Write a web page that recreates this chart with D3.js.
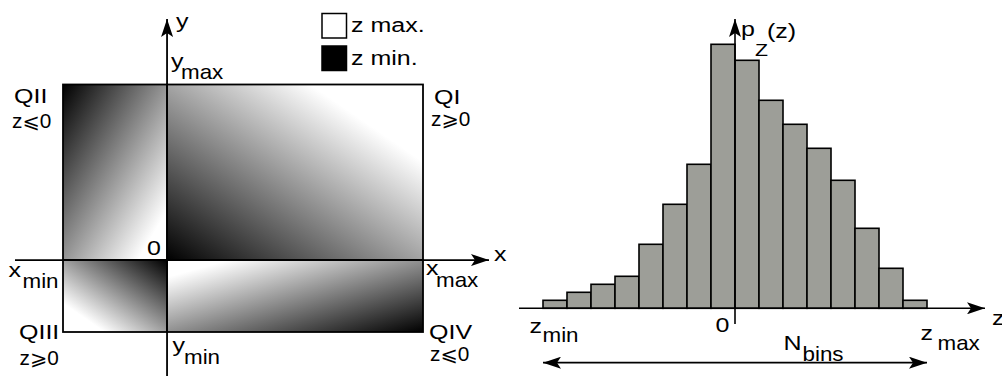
<!DOCTYPE html>
<html>
<head>
<meta charset="utf-8">
<script src="https://cdn.jsdelivr.net/npm/d3@7"></script>
<style>
  html, body { margin: 0; padding: 0; background: #fff; }
  svg { display: block; }
  text { font-family: 'Liberation Sans', Arial, 'DejaVu Sans', sans-serif; font-size: 20px; fill: #000; }
</style>
</head>
<body>
<div id="chart"></div>
<script>
// ---- data ----
// left panel: extents of the xy domain (origin at 0)
const xExtent = [-1, 2.46];
const yExtent = [-1, 2.44];
const quadrantNames = ['QI', 'QII', 'QIII', 'QIV'];
const quadrantSigns = ['z⩾0', 'z⩽0', 'z⩾0', 'z⩽0'];
const legendLabels = ['z max.', 'z min.'];
const legendColors = ['#ffffff', '#000000'];

// right panel: histogram of z, bins around 0
const binEdges = [-8, -7, -6, -5, -4, -3, -2, -1, 0, 1, 2, 3, 4, 5, 6, 7, 8];
const binCounts = [1, 2, 3, 4, 8, 13, 18, 33, 31, 26, 23, 20, 16, 10, 5, 1];

const width = 1002, height = 376;

const svg = d3.select('#chart').append('svg')
  .attr('width', width)
  .attr('height', height);

const defs = svg.append('defs');

// arrow head
defs.append('marker')
  .attr('id', 'arrow')
  .attr('viewBox', '0 0 18 12')
  .attr('refX', 18)
  .attr('refY', 6)
  .attr('markerWidth', 18)
  .attr('markerHeight', 12)
  .attr('markerUnits', 'userSpaceOnUse')
  .attr('orient', 'auto-start-reverse')
  .append('path')
  .attr('d', 'M0,0 L18,6 L0,12 L4,6 Z')
  .attr('fill', '#000');

// the text in the picture is a bit wider than Arial, stretch it
function txt(g, x, y, str, size, sx) {
  return g.append('text')
    .attr('transform', `translate(${x},${y}) scale(${sx || 1.25},1)`)
    .style('font-size', (size || 20) + 'px')
    .text(str);
}
// label with a subscript drawn as a separate piece
function label(g, x, y, main, sub, sxSub, sySub) {
  txt(g, x, y, main);
  txt(g, sxSub, sySub, sub, 20, 1.12);
}

// ================= left panel =================
const xs = d3.scaleLinear().domain(xExtent).range([63, 423]);
const ys = d3.scaleLinear().domain(yExtent).range([332, 84.5]);

// gradient direction per quadrant (objectBoundingBox)
const gradStyle = {
  QI:   { x1: 0, y1: 1, x2: 1, y2: 0, stops: [[0, '#000'], [0.78, '#fff'], [1, '#fff']] },
  QII:  { x1: 0, y1: 0, x2: 1, y2: 1, stops: [[0, '#000'], [0.86, '#fff'], [1, '#fff']] },
  QIII: { x1: 1, y1: 0, x2: 0, y2: 1, stops: [[0, '#000'], [0.8, '#fff'], [1, '#fff']] },
  QIV:  { x1: 0, y1: 0, x2: 1, y2: 1, stops: [[0, '#fff'], [0.12, '#fff'], [1, '#000']] }
};

const quadrants = quadrantNames.map((name, i) => ({
  name,
  sign: quadrantSigns[i],
  x: (i === 0 || i === 3) ? [0, xExtent[1]] : [xExtent[0], 0],
  y: (i < 2) ? [0, yExtent[1]] : [yExtent[0], 0]
}));

quadrants.forEach(q => {
  const s = gradStyle[q.name];
  const lg = defs.append('linearGradient')
    .attr('id', 'grad-' + q.name)
    .attr('x1', s.x1).attr('y1', s.y1)
    .attr('x2', s.x2).attr('y2', s.y2);
  s.stops.forEach(st => {
    lg.append('stop').attr('offset', st[0]).attr('stop-color', st[1]);
  });
});

const left = svg.append('g');

left.selectAll('rect.quad')
  .data(quadrants)
  .enter()
  .append('rect')
  .attr('class', 'quad')
  .attr('x', d => xs(d.x[0]))
  .attr('y', d => ys(d.y[1]))
  .attr('width', d => xs(d.x[1]) - xs(d.x[0]))
  .attr('height', d => ys(d.y[0]) - ys(d.y[1]))
  .attr('fill', d => `url(#grad-${d.name})`)
  .attr('stroke', '#000')
  .attr('stroke-width', 1.8);

// axes
left.append('line')
  .attr('x1', 15).attr('y1', ys(0))
  .attr('x2', 489).attr('y2', ys(0))
  .attr('stroke', '#000').attr('stroke-width', 1.8)
  .attr('marker-end', 'url(#arrow)');
left.append('line')
  .attr('x1', xs(0)).attr('y1', height)
  .attr('x2', xs(0)).attr('y2', 19)
  .attr('stroke', '#000').attr('stroke-width', 1.8)
  .attr('marker-end', 'url(#arrow)');

txt(left, 494, 261, 'x');
txt(left, 176, 28, 'y');
txt(left, xs(0) - 20, ys(0) - 5, '0');

label(left, 171, 67.5, 'y', 'max', 181, 78.5);
label(left, 172.5, 352, 'y', 'min', 184, 363.5);
label(left, 8.5, 277, 'x', 'min', 22.5, 287.5);
label(left, 426, 275, 'x', 'max', 436, 287);

// quadrant names
const qPos = {
  QI:   { x: 434, y: 104, sx: 431, sy: 126 },
  QII:  { x: 14,  y: 103, sx: 12,  sy: 128 },
  QIII: { x: 19,  y: 338.5, sx: 19.5, sy: 365 },
  QIV:  { x: 429, y: 339, sx: 430, sy: 361 }
};
quadrants.forEach(q => {
  const p = qPos[q.name];
  txt(left, p.x, p.y, q.name);
  txt(left, p.sx, p.sy, q.sign, 20, 1.04);
});

// legend
const legend = left.selectAll('g.legend')
  .data(legendLabels)
  .enter()
  .append('g')
  .attr('class', 'legend')
  .attr('transform', (d, i) => `translate(322, ${13.5 + i * 32.5})`);
legend.append('rect')
  .attr('width', 24.5).attr('height', 24.5)
  .attr('fill', (d, i) => legendColors[i])
  .attr('stroke', '#000').attr('stroke-width', 1.5);
legend.each(function (d, i) {
  txt(d3.select(this), 29, i === 0 ? 18.5 : 19, d);
});

// ================= right panel =================
const hx = d3.scaleLinear().domain([binEdges[0], binEdges[binEdges.length - 1]]).range([543, 927]);
const hy = d3.scaleLinear().domain([0, d3.max(binCounts)]).range([308.3, 44.3]);

const right = svg.append('g');

const bins = binCounts.map((c, i) => ({ x0: binEdges[i], x1: binEdges[i + 1], count: c }));

right.selectAll('rect.bar')
  .data(bins)
  .enter()
  .append('rect')
  .attr('class', 'bar')
  .attr('x', d => hx(d.x0))
  .attr('y', d => hy(d.count))
  .attr('width', d => hx(d.x1) - hx(d.x0))
  .attr('height', d => hy(0) - hy(d.count))
  .attr('fill', '#9d9e98')
  .attr('stroke', '#000')
  .attr('stroke-width', 1.6);

// z axis
right.append('line')
  .attr('x1', 519).attr('y1', hy(0))
  .attr('x2', 985).attr('y2', hy(0))
  .attr('stroke', '#000').attr('stroke-width', 1.6)
  .attr('marker-end', 'url(#arrow)');
// p axis
right.append('line')
  .attr('x1', hx(0)).attr('y1', 324)
  .attr('x2', hx(0)).attr('y2', 19)
  .attr('stroke', '#000').attr('stroke-width', 1.6)
  .attr('marker-end', 'url(#arrow)');

// N bins double arrow
right.append('line')
  .attr('x1', hx(binEdges[0])).attr('y1', 362.7)
  .attr('x2', hx(binEdges[binEdges.length - 1])).attr('y2', 362.7)
  .attr('stroke', '#000').attr('stroke-width', 1.8)
  .attr('marker-start', 'url(#arrow)')
  .attr('marker-end', 'url(#arrow)');

txt(right, hx(0) - 19.5, 331.5, '0');
txt(right, 992, 325, 'z');
label(right, 529.5, 333, 'z', 'min', 542.5, 342);
label(right, 920.5, 340, 'z', 'max', 937.5, 349.5);
label(right, 783.5, 349.5, 'N', 'bins', 802.5, 360.5);

// p_Z(z)
txt(right, 741, 36, 'p');
txt(right, 755, 55.5, 'Z', 17);
txt(right, 767, 38, '(z)');
</script>
</body>
</html>
